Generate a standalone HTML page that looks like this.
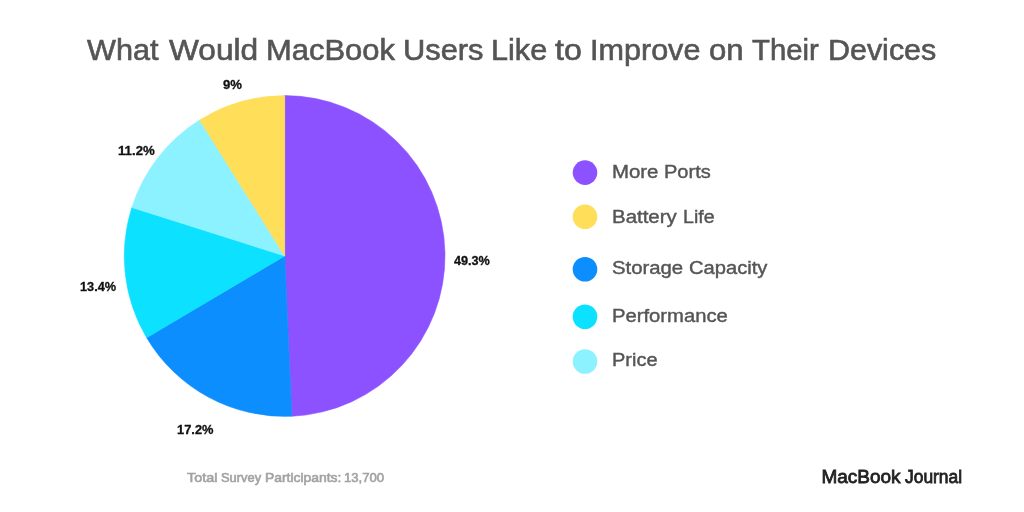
<!DOCTYPE html>
<html><head><meta charset="utf-8">
<style>
html,body{margin:0;padding:0;background:#fff;}
body{width:1024px;height:512px;position:relative;overflow:hidden;font-family:"Liberation Sans",sans-serif;}
.t{position:absolute;white-space:nowrap;line-height:1;transform-origin:0 0;filter:grayscale(1);}
svg{position:absolute;left:0;top:0;}
</style></head><body>
<svg width="1024" height="512" viewBox="0 0 1024 512">
<path d="M284.7 256.0L284.70 95.60A160.4 160.4 0 0 1 291.75 416.24Z" fill="#8C52FF" stroke="#8C52FF" stroke-width="0.6" stroke-linejoin="round"/>
<path d="M284.7 256.0L291.75 416.24A160.4 160.4 0 0 1 146.64 337.65Z" fill="#0C8EFF" stroke="#0C8EFF" stroke-width="0.6" stroke-linejoin="round"/>
<path d="M284.7 256.0L146.64 337.65A160.4 160.4 0 0 1 131.84 207.39Z" fill="#0CE2FF" stroke="#0CE2FF" stroke-width="0.6" stroke-linejoin="round"/>
<path d="M284.7 256.0L131.84 207.39A160.4 160.4 0 0 1 199.61 120.03Z" fill="#8CF2FF" stroke="#8CF2FF" stroke-width="0.6" stroke-linejoin="round"/>
<path d="M284.7 256.0L199.61 120.03A160.4 160.4 0 0 1 284.70 95.60Z" fill="#FFDE59" stroke="#FFDE59" stroke-width="0.6" stroke-linejoin="round"/>
<circle cx="585" cy="172.6" r="12.3" fill="#8C52FF"/>
<circle cx="585" cy="216.7" r="12.3" fill="#FFDE59"/>
<circle cx="585" cy="269.2" r="12.3" fill="#0C8EFF"/>
<circle cx="585" cy="316.7" r="12.3" fill="#0CE2FF"/>
<circle cx="585" cy="361.5" r="12.3" fill="#8CF2FF"/>
</svg>
<div class="t" style="left:87.30px;top:35.65px;font-size:29px;color:#555;-webkit-text-stroke:0.6px #555;transform:scaleX(1.0559)">What</div>
<div class="t" style="left:168.60px;top:35.65px;font-size:29px;color:#555;-webkit-text-stroke:0.6px #555;transform:scaleX(1.0912)">Would</div>
<div class="t" style="left:266.17px;top:35.65px;font-size:29px;color:#555;-webkit-text-stroke:0.6px #555;transform:scaleX(1.0664)">MacBook</div>
<div class="t" style="left:402.57px;top:35.65px;font-size:29px;color:#555;-webkit-text-stroke:0.6px #555;transform:scaleX(1.0630)">Users</div>
<div class="t" style="left:490.79px;top:35.65px;font-size:29px;color:#555;-webkit-text-stroke:0.6px #555;transform:scaleX(1.0560)">Like</div>
<div class="t" style="left:554.50px;top:35.65px;font-size:29px;color:#555;-webkit-text-stroke:0.6px #555;transform:scaleX(1.1087)">to</div>
<div class="t" style="left:590.39px;top:35.65px;font-size:29px;color:#555;-webkit-text-stroke:0.6px #555;transform:scaleX(1.0539)">Improve</div>
<div class="t" style="left:708.73px;top:35.65px;font-size:29px;color:#555;-webkit-text-stroke:0.6px #555;transform:scaleX(1.0733)">on</div>
<div class="t" style="left:751.60px;top:35.65px;font-size:29px;color:#555;-webkit-text-stroke:0.6px #555;transform:scaleX(1.0106)">Their</div>
<div class="t" style="left:827.90px;top:35.65px;font-size:29px;color:#555;-webkit-text-stroke:0.6px #555;transform:scaleX(1.0495)">Devices</div>
<div class="t" style="left:611.87px;top:162.66px;font-size:18px;color:#555;-webkit-text-stroke:0.4px #555;transform:scaleX(1.1325)">More</div>
<div class="t" style="left:664.29px;top:162.66px;font-size:18px;color:#555;-webkit-text-stroke:0.4px #555;transform:scaleX(1.1122)">Ports</div>
<div class="t" style="left:612.26px;top:208.06px;font-size:18px;color:#555;-webkit-text-stroke:0.4px #555;transform:scaleX(1.1357)">Battery</div>
<div class="t" style="left:683.01px;top:208.06px;font-size:18px;color:#555;-webkit-text-stroke:0.4px #555;transform:scaleX(1.0893)">Life</div>
<div class="t" style="left:611.87px;top:258.86px;font-size:18px;color:#555;-webkit-text-stroke:0.4px #555;transform:scaleX(1.1290)">Storage</div>
<div class="t" style="left:689.38px;top:258.86px;font-size:18px;color:#555;-webkit-text-stroke:0.4px #555;transform:scaleX(1.1188)">Capacity</div>
<div class="t" style="left:612.13px;top:306.96px;font-size:18px;color:#555;-webkit-text-stroke:0.4px #555;transform:scaleX(1.1240)">Performance</div>
<div class="t" style="left:612.09px;top:351.46px;font-size:18px;color:#555;-webkit-text-stroke:0.4px #555;transform:scaleX(1.1100)">Price</div>
<div class="t" style="left:223.40px;top:78.95px;font-size:12.7px;font-weight:bold;color:#111;-webkit-text-stroke:0.3px #111;transform:scaleX(1.0333)">9%</div>
<div class="t" style="left:117.76px;top:144.55px;font-size:12.7px;font-weight:bold;color:#111;-webkit-text-stroke:0.3px #111;transform:scaleX(1.0412)">11.2%</div>
<div class="t" style="left:453.80px;top:254.75px;font-size:12.7px;font-weight:bold;color:#111;-webkit-text-stroke:0.3px #111;transform:scaleX(0.9972)">49.3%</div>
<div class="t" style="left:80.00px;top:280.95px;font-size:12.7px;font-weight:bold;color:#111;-webkit-text-stroke:0.3px #111;transform:scaleX(1.0029)">13.4%</div>
<div class="t" style="left:177.49px;top:424.25px;font-size:12.7px;font-weight:bold;color:#111;-webkit-text-stroke:0.3px #111;transform:scaleX(1.0143)">17.2%</div>
<div class="t" style="left:186.50px;top:471.78px;font-size:12.9px;color:#a2a2a2;-webkit-text-stroke:0.6px #a2a2a2;transform:scaleX(1.1148)">Total</div>
<div class="t" style="left:221.00px;top:471.78px;font-size:12.9px;color:#a2a2a2;-webkit-text-stroke:0.6px #a2a2a2;transform:scaleX(1.0000)">Survey</div>
<div class="t" style="left:264.92px;top:471.78px;font-size:12.9px;color:#a2a2a2;-webkit-text-stroke:0.6px #a2a2a2;transform:scaleX(1.0768)">Participants:</div>
<div class="t" style="left:343.98px;top:471.78px;font-size:12.9px;color:#a2a2a2;-webkit-text-stroke:0.6px #a2a2a2;transform:scaleX(1.0184)">13,700</div>
<div class="t" style="left:821.40px;top:467.36px;font-size:19px;color:#222;-webkit-text-stroke:0.8px #222;transform:scaleX(1.0000)">MacBook</div>
<div class="t" style="left:904.90px;top:467.36px;font-size:19px;color:#222;-webkit-text-stroke:0.8px #222;transform:scaleX(0.9164)">Journal</div>
</body></html>
